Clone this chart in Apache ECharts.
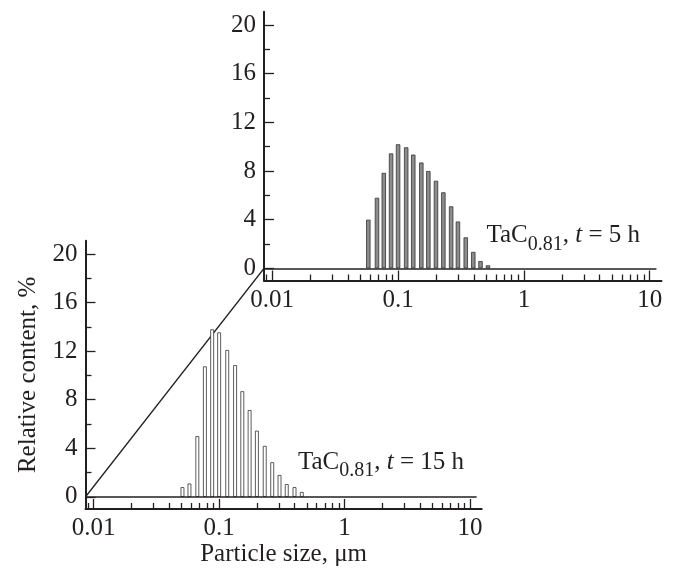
<!DOCTYPE html>
<html>
<head>
<meta charset="utf-8">
<script src="https://cdn.jsdelivr.net/npm/echarts@6/dist/echarts.min.js"></script>
<style>
  html, body { margin: 0; padding: 0; background: #fff; }
  #chart { width: 678px; height: 569px; }
</style>
</head>
<body>
<div id="chart"></div>
<script>
// particle size bins (µm) and relative content (%)
const sizes5h = [0.058, 0.068, 0.077, 0.088, 0.100, 0.116, 0.132, 0.153, 0.174, 0.200, 0.229, 0.264, 0.299, 0.345, 0.396, 0.452, 0.518]
const content5h = [4.0, 5.8, 7.85, 9.45, 10.2, 9.95, 9.35, 8.7, 8.0, 7.2, 6.25, 5.1, 3.85, 2.55, 1.35, 0.6, 0.25]
const sizes15h = [0.051, 0.058, 0.067, 0.077, 0.088, 0.100, 0.116, 0.134, 0.153, 0.175, 0.200, 0.231, 0.265, 0.303, 0.346, 0.399, 0.456]
const content15h = [0.8, 1.1, 5.0, 10.75, 13.8, 13.55, 12.1, 10.85, 8.7, 7.15, 5.45, 4.2, 2.85, 1.8, 1.05, 0.8, 0.4]

// axis ticks and ranges
const sizeMajorTicks = [0.01, 0.1, 1, 10]
const sizeMinorTicks = [0.009, 0.02, 0.03, 0.04, 0.05, 0.06, 0.07, 0.08, 0.09,
  0.2, 0.3, 0.4, 0.5, 0.6, 0.7, 0.8, 0.9, 2, 3, 4, 5, 6, 7, 8, 9]
const contentMajorTicks = [0, 4, 8, 12, 16, 20]
const contentMinorTicks = [2, 6, 10, 14, 18]
const sizeRange = [0.0086, 12.4]
const contentRange = [-1, 21.1]
const zeroLineEnd = 11.3

const FONT = '"Liberation Serif", "Times New Roman", serif'
const INK = '#231f20'
const lg = v => Math.log10(v)

const chart = echarts.init(document.getElementById('chart'), null, { renderer: 'canvas' })

// x axis in log10 space; major axis carries line + labels, minor one only short ticks
function sizeAxis (gridIndex, major, name) {
  return {
    type: 'value',
    gridIndex,
    position: 'bottom',
    min: lg(sizeRange[0]),
    max: lg(sizeRange[1]),
    name: name || '',
    nameLocation: 'middle',
    nameGap: 32,
    nameTextStyle: { color: INK, fontFamily: FONT, fontSize: 25 },
    axisLine: { show: major, onZero: false, lineStyle: { color: INK, width: 2 } },
    axisTick: {
      show: true,
      inside: true,
      length: major ? 10 : 6,
      customValues: (major ? sizeMajorTicks : sizeMinorTicks).map(lg),
      lineStyle: { color: INK, width: 1.3 }
    },
    axisLabel: {
      show: major,
      customValues: sizeMajorTicks.map(lg),
      formatter: v => String(+Math.pow(10, v).toPrecision(3)),
      margin: 7,
      color: INK,
      fontFamily: FONT,
      fontSize: 25
    },
    splitLine: { show: false }
  }
}

function contentAxis (gridIndex, major, name) {
  return {
    type: 'value',
    gridIndex,
    position: 'left',
    min: contentRange[0],
    max: contentRange[1],
    name: name || '',
    nameLocation: 'middle',
    nameGap: 45,
    nameTextStyle: { color: INK, fontFamily: FONT, fontSize: 25 },
    axisLine: { show: major, onZero: false, lineStyle: { color: INK, width: 2 } },
    axisTick: {
      show: true,
      inside: true,
      length: major ? 10 : 6,
      customValues: major ? contentMajorTicks : contentMinorTicks,
      lineStyle: { color: INK, width: 1.3 }
    },
    axisLabel: {
      show: major,
      customValues: contentMajorTicks,
      margin: 8,
      color: INK,
      fontFamily: FONT,
      fontSize: 25
    },
    splitLine: { show: false }
  }
}

function barSeries (axisIndex, sizes, values, fill, width) {
  return {
    type: 'bar',
    xAxisIndex: axisIndex,
    yAxisIndex: axisIndex,
    data: sizes.map((s, i) => [lg(s), values[i]]),
    barWidth: width,
    itemStyle: { color: fill, borderColor: '#333', borderWidth: 0.8 },
    // zero line drawn a bit above the x axis
    markLine: {
      silent: true,
      symbol: 'none',
      label: { show: false },
      lineStyle: { color: INK, width: 1.5, type: 'solid' },
      data: [[{ coord: [lg(sizeRange[0]), 0] }, { coord: [lg(zeroLineEnd), 0] }]]
    }
  }
}

chart.setOption({
  animation: false,
  grid: [
    { left: 264, right: 16.5, top: 11.7, bottom: 288.5 },
    { left: 85.5, right: 196.3, top: 240.7, bottom: 60 }
  ],
  xAxis: [
    sizeAxis(0, true),
    sizeAxis(0, false),
    sizeAxis(1, true, 'Particle size, μm'),
    sizeAxis(1, false)
  ],
  yAxis: [
    contentAxis(0, true),
    contentAxis(0, false),
    contentAxis(1, true, 'Relative content, %'),
    contentAxis(1, false)
  ],
  series: [
    barSeries(0, sizes5h, content5h, '#8c8c8c', 4.4),
    barSeries(2, sizes15h, content15h, '#ffffff', 3.8)
  ]
})

// sample label "TaC0.81, t = N h" built from pieces (subscript + italic t)
const measureCtx = document.createElement('canvas').getContext('2d')
function formulaLabel (x, baseline, hours) {
  const parts = [
    { text: 'TaC', size: 25, style: 'normal', dy: 0 },
    { text: '0.81', size: 20, style: 'normal', dy: 7.5 },
    { text: ', ', size: 25, style: 'normal', dy: 0 },
    { text: 't', size: 25, style: 'italic', dy: 0 },
    { text: ' = ' + hours + ' h', size: 25, style: 'normal', dy: 0 }
  ]
  let cx = x
  return parts.map(p => {
    const font = p.style + ' ' + p.size + 'px ' + FONT
    measureCtx.font = font
    const el = {
      type: 'text',
      x: cx,
      y: baseline + p.dy - 0.32 * p.size,
      silent: true,
      style: { text: p.text, font, fill: INK, align: 'left', verticalAlign: 'middle' }
    }
    cx += measureCtx.measureText(p.text).width
    return el
  })
}

// diagonal joining the two origins
const lowOrigin = chart.convertToPixel({ xAxisIndex: 2, yAxisIndex: 2 }, [lg(sizeRange[0]), 0])
const highOrigin = chart.convertToPixel({ xAxisIndex: 0, yAxisIndex: 0 }, [lg(sizeRange[0]), 0])

chart.setOption({
  graphic: [
    {
      type: 'line',
      silent: true,
      shape: { x1: lowOrigin[0], y1: lowOrigin[1], x2: highOrigin[0], y2: highOrigin[1] },
      style: { stroke: INK, lineWidth: 1.5 }
    },
    ...formulaLabel(486.5, 243.3, 5),
    ...formulaLabel(298, 470, 15)
  ]
})
</script>
</body>
</html>
